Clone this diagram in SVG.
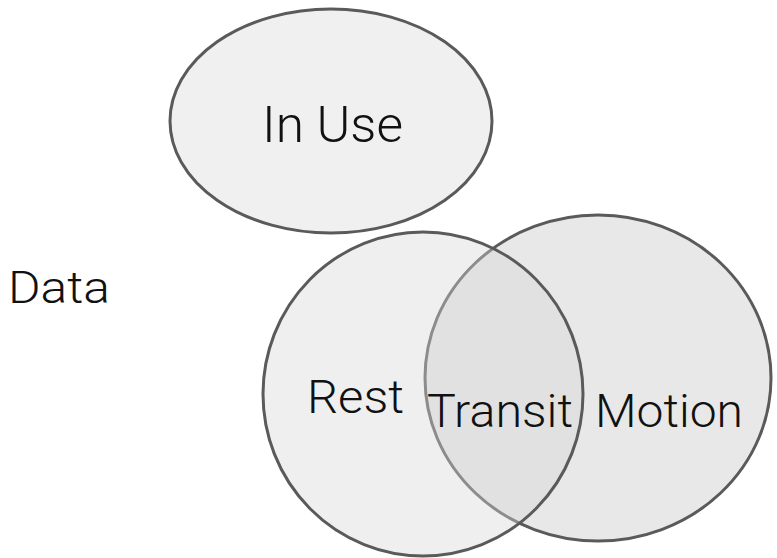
<svg xmlns="http://www.w3.org/2000/svg" width="777" height="558" viewBox="0 0 777 558">
<style>
.lbl{font-family:"Roboto","Liberation Sans","Helvetica Neue",Arial,sans-serif;font-weight:300;fill:#111;}
.shape{stroke:#5a5a5a;stroke-width:3;}
</style>
<rect width="777" height="558" fill="#ffffff"/>
<g id="in-use">
<ellipse class="shape" cx="331" cy="121" rx="161" ry="112" fill="#f0f0f0"/>
<text class="lbl" x="262" y="142" font-size="50" textLength="141" lengthAdjust="spacingAndGlyphs">In Use</text>
</g>
<g id="data">
<text class="lbl" x="8" y="303" font-size="45" textLength="102" lengthAdjust="spacingAndGlyphs">Data</text>
</g>
<g id="motion">
<ellipse class="shape" cx="598" cy="378" rx="173" ry="163" fill="#e8e8e8"/>
</g>
<g id="rest">
<ellipse class="shape" cx="423" cy="394" rx="160" ry="162" fill="#d8d8d8" fill-opacity="0.4"/>
<text class="lbl" x="307" y="413" font-size="47" textLength="97" lengthAdjust="spacingAndGlyphs">Rest</text>
</g>
<g id="transit">
<text class="lbl" x="427" y="427" font-size="47" textLength="146" lengthAdjust="spacingAndGlyphs">Transit</text>
</g>
<g id="motion-label">
<text class="lbl" x="595" y="427" font-size="47" textLength="148" lengthAdjust="spacingAndGlyphs">Motion</text>
</g>
<g id="connectors"></g>
</svg>
